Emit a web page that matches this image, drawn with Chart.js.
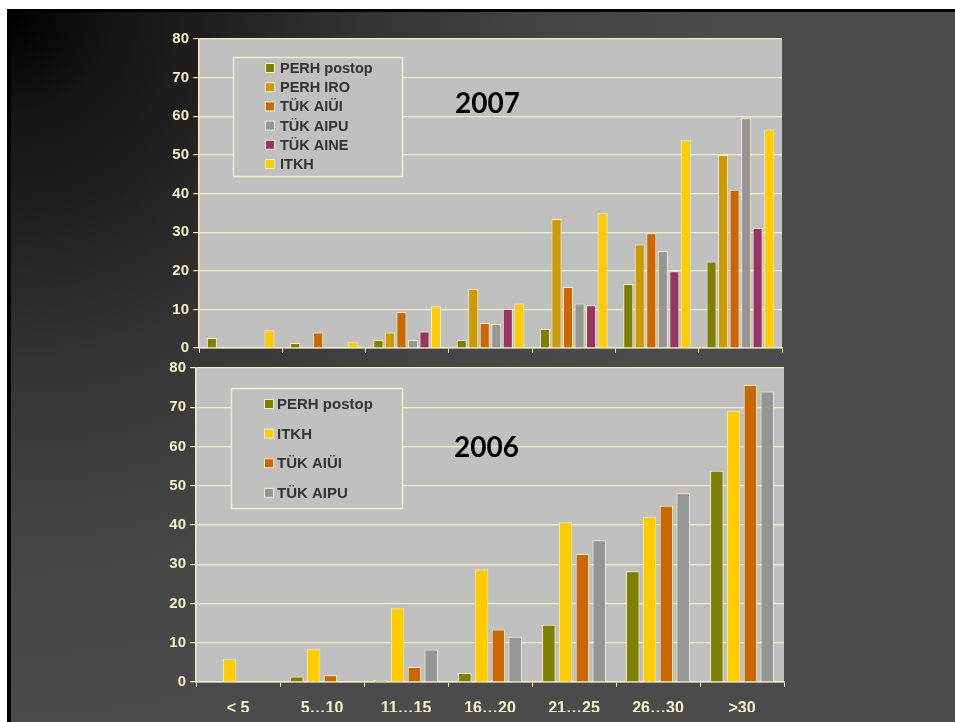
<!DOCTYPE html>
<html lang="et">

<head>
    <meta charset="UTF-8">
    <title>PERH / TÜK / ITKH 2007 vs 2006</title>
    <style>
        body {
            margin: 0;
            padding: 0;
            width: 955px;
            height: 722px;
            background: #fff;
            overflow: hidden;
            position: relative;
        }

        .slide {
            position: absolute;
            left: 7px;
            top: 9px;
            right: 0;
            bottom: 0;
            border-left: 4px solid #000;
            border-top: 3px solid #000;
            background: radial-gradient(circle at 0 0, #000 0, #141414 100px, #1f1f1f 200px, #333 350px, #444 530px, #4b4b4b 720px);
        }

        canvas {
            position: absolute;
            left: 0;
            top: 0;
        }
    </style>
</head>

<body>
    <div class="slide"></div>
    <canvas id="chart2007" width="955" height="722"></canvas>
    <canvas id="chart2006" width="955" height="722"></canvas>

    <script src="https://cdn.jsdelivr.net/npm/chart.js"></script>
    <script>
        const categories = ["< 5", "5…10", "11…15", "16…20", "21…25", "26…30", ">30"];
        const yTicks = [0, 10, 20, 30, 40, 50, 60, 70, 80];

        // 2007
        const perhPostop07 = [2.6, 1.3, 2.1, 2.1, 4.9, 16.6, 22.4];
        const perhIro07 = [0, 0, 4.0, 15.3, 33.4, 26.8, 50.0];
        const tukAiui07 = [0, 4.0, 9.3, 6.5, 15.8, 29.7, 41.0];
        const tukAipu07 = [0, 0, 2.1, 6.2, 11.5, 25.1, 59.5];
        const tukAine07 = [0, 0, 4.3, 10.1, 11.1, 19.9, 31.1];
        const itkh07 = [4.6, 1.6, 10.8, 11.5, 34.9, 53.8, 56.6];

        // 2006
        const perhPostop06 = [0, 1.4, 0.5, 2.3, 14.6, 28.2, 53.8];
        const itkh06 = [5.8, 8.5, 18.9, 28.7, 40.7, 42.1, 69.1];
        const tukAiui06 = [0, 1.7, 3.8, 13.4, 32.6, 44.9, 75.7];
        const tukAipu06 = [0, 0, 8.3, 11.5, 36.1, 48.1, 74.0];

        const OLIVE = "#808000", GOLD = "#CC9900", ORANGE = "#CC6600",
            GREY = "#969696", PLUM = "#993366", YELLOW = "#FFCC00";
        const cream = "#F2EEC4";
        const labelCol = "#F5F0C6";

        // grey plot area behind grid
        const plotBg = {
            id: "plotBg",
            beforeDraw(chart) {
                const a = chart.chartArea, ctx = chart.ctx;
                ctx.save();
                ctx.fillStyle = "#C0C0C0";
                ctx.fillRect(a.left, a.top, a.right - a.left, a.bottom - a.top);
                ctx.restore();
            }
        };

        // boxed legend inside plot + year title
        const boxLegend = {
            id: "boxLegend",
            afterDraw(chart, args, o) {
                const ctx = chart.ctx;
                ctx.save();
                ctx.fillStyle = "#C0C0C0";
                ctx.fillRect(o.x, o.y, o.w, o.h);
                ctx.strokeStyle = cream;
                ctx.lineWidth = 1.5;
                ctx.strokeRect(o.x + 0.5, o.y + 0.5, o.w, o.h);
                ctx.font = "bold " + o.fontSize + "px 'Liberation Sans', Arial, sans-serif";
                ctx.textBaseline = "middle";
                chart.data.datasets.forEach((ds, i) => {
                    const cy = o.firstY + i * o.step;
                    ctx.fillStyle = ds.backgroundColor;
                    ctx.fillRect(o.markerX, cy - 4.5, 9, 9);
                    ctx.strokeStyle = cream;
                    ctx.lineWidth = 1;
                    ctx.strokeRect(o.markerX + 0.5, cy - 4.5, 9, 9);
                    ctx.fillStyle = "#333333";
                    ctx.fillText(ds.label, o.textX, cy + 1);
                });
                ctx.fillStyle = "#000";
                ctx.textBaseline = "alphabetic";
                ctx.font = "bold 28px Lato, 'Open Sans', sans-serif";
                ctx.fillText(o.title, o.titleX, o.titleY);
                ctx.restore();
            }
        };

        function makeOptions(showX, pad, legendOpts, catPct, barPct) {
            return {
                responsive: false,
                animation: false,
                layout: { padding: pad },
                datasets: { bar: { categoryPercentage: catPct, barPercentage: barPct } },
                plugins: {
                    legend: { display: false },
                    tooltip: { enabled: false },
                    boxLegend: legendOpts
                },
                scales: {
                    x: {
                        grid: { drawOnChartArea: false, drawTicks: true, tickLength: 5, color: cream, offset: true },
                        border: { color: cream, width: 1.5 },
                        ticks: {
                            display: showX,
                            color: labelCol,
                            padding: 12,
                            font: { family: "'Liberation Sans', Arial, sans-serif", size: 16, weight: "bold" }
                        },
                        afterFit: s => { s.height = showX ? 30 : 20; }
                    },
                    y: {
                        min: 0,
                        max: 80,
                        afterBuildTicks: s => { s.ticks = yTicks.map(v => ({ value: v })); },
                        grid: { color: cream, lineWidth: 1.2, tickLength: 6 },
                        border: { color: cream, width: 1.5 },
                        ticks: {
                            color: labelCol,
                            padding: 4,
                            font: { family: "'Liberation Sans', Arial, sans-serif", size: 15, weight: "bold" }
                        },
                        afterFit: s => { s.width = 40; }
                    }
                }
            };
        }

        function bars(label, data, color) {
            return { label: label, data: data, backgroundColor: color, borderColor: "#F4F0C0", borderWidth: 1 };
        }

        new Chart(document.getElementById("chart2007"), {
            type: "bar",
            data: {
                labels: categories,
                datasets: [
                    bars("PERH postop", perhPostop07, OLIVE),
                    bars("PERH IRO", perhIro07, GOLD),
                    bars("TÜK AIÜI", tukAiui07, ORANGE),
                    bars("TÜK AIPU", tukAipu07, GREY),
                    bars("TÜK AINE", tukAine07, PLUM),
                    bars("ITKH", itkh07, YELLOW)
                ]
            },
            options: makeOptions(false, { left: 159, top: 39, right: 173, bottom: 354 },
                { x: 233, y: 57, w: 169, h: 119, markerX: 265, textX: 280, firstY: 68, step: 19.2, fontSize: 14.5, title: "2007", titleX: 455, titleY: 113 },
                0.83, 0.87),
            plugins: [plotBg, boxLegend]
        });

        new Chart(document.getElementById("chart2006"), {
            type: "bar",
            data: {
                labels: categories,
                datasets: [
                    bars("PERH postop", perhPostop06, OLIVE),
                    bars("ITKH", itkh06, YELLOW),
                    bars("TÜK AIÜI", tukAiui06, ORANGE),
                    bars("TÜK AIPU", tukAipu06, GREY)
                ]
            },
            options: makeOptions(true, { left: 156, top: 368, right: 171, bottom: 10 },
                { x: 231, y: 388, w: 171, h: 120, markerX: 264, textX: 277, firstY: 404, step: 29.6, fontSize: 15, title: "2006", titleX: 454, titleY: 457 },
                0.8, 0.8),
            plugins: [plotBg, boxLegend]
        });
    </script>
</body>

</html>
